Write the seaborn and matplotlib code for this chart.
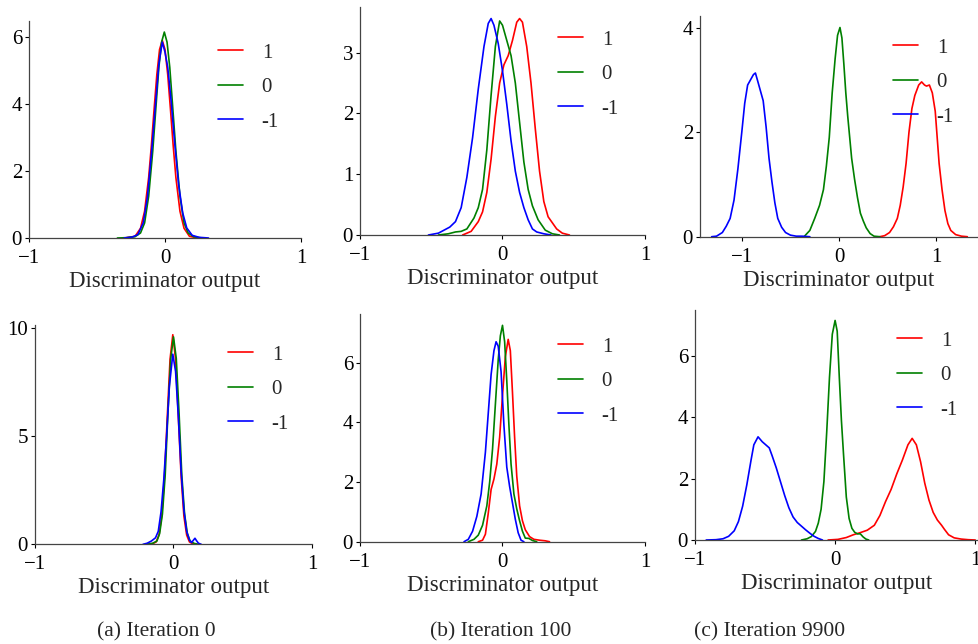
#!/usr/bin/env python3
"""Discriminator output densities for labels 1 / 0 / -1 at three training iterations."""

import matplotlib
matplotlib.use("Agg")
import matplotlib.pyplot as plt
import pandas as pd
import seaborn as sns

LABELS = ["1", "0", "-1"]
COLORS = {"1": "red", "0": "green", "-1": "blue"}
CAPTIONS = ["(a) Iteration 0", "(b) Iteration 100", "(c) Iteration 9900"]

# ---- top row ----------------------------------------------------------
# (a) iteration 0
top_a_red_x = [-0.3, -0.22, -0.18, -0.15, -0.12, -0.1, -0.08, -0.06, -0.04, -0.02, 0.0, 0.02, 0.04, 0.06, 0.08, 0.11, 0.14, 0.18, 0.24]
top_a_red_y = [0.0, 0.05, 0.29, 0.8, 1.81, 2.77, 3.85, 4.88, 5.63, 5.9, 5.63, 4.88, 3.85, 2.77, 1.81, 0.8, 0.29, 0.05, 0.0]
top_a_green_x = [-0.35, -0.28, -0.22, -0.18, -0.15, -0.12, -0.09, -0.065, -0.045, -0.025, -0.005, 0.015, 0.035, 0.055, 0.08, 0.11, 0.14, 0.17, 0.21, 0.27]
top_a_green_y = [0.0, 0.01, 0.04, 0.15, 0.45, 1.25, 2.6, 4.0, 5.1, 5.85, 6.15, 5.85, 5.1, 4.0, 2.6, 1.25, 0.45, 0.15, 0.04, 0.0]
top_a_blue_x = [-0.3, -0.24, -0.2, -0.16, -0.13, -0.1, -0.07, -0.045, -0.02, 0.0, 0.02, 0.045, 0.07, 0.1, 0.13, 0.16, 0.2, 0.25, 0.32]
top_a_blue_y = [0.0, 0.03, 0.1, 0.45, 1.2, 2.5, 4.0, 5.2, 5.85, 5.55, 5.1, 4.1, 2.9, 1.6, 0.75, 0.3, 0.08, 0.02, 0.0]

# (b) iteration 100
top_b_red_x = [-0.28, -0.22, -0.17, -0.14, -0.11, -0.08, -0.05, -0.02, 0.01, 0.04, 0.07, 0.1, 0.12, 0.14, 0.17, 0.2, 0.23, 0.26, 0.29, 0.32, 0.35, 0.38, 0.42, 0.47]
top_b_red_y = [0.0, 0.06, 0.22, 0.38, 0.7, 1.25, 1.95, 2.5, 2.8, 2.95, 3.2, 3.5, 3.56, 3.5, 3.1, 2.5, 1.75, 1.05, 0.55, 0.3, 0.2, 0.1, 0.03, 0.0]
top_b_green_x = [-0.45, -0.38, -0.33, -0.29, -0.25, -0.2, -0.17, -0.14, -0.11, -0.08, -0.05, -0.02, 0.0, 0.03, 0.06, 0.09, 0.12, 0.15, 0.18, 0.21, 0.25, 0.3, 0.35, 0.4]
top_b_green_y = [0.0, 0.02, 0.05, 0.06, 0.1, 0.28, 0.45, 0.75, 1.4, 2.3, 3.1, 3.52, 3.45, 3.2, 2.95, 2.5, 1.85, 1.2, 0.75, 0.48, 0.25, 0.08, 0.02, 0.0]
top_b_blue_x = [-0.52, -0.45, -0.41, -0.37, -0.33, -0.29, -0.25, -0.21, -0.17, -0.13, -0.1, -0.08, -0.06, -0.03, 0.0, 0.03, 0.06, 0.09, 0.12, 0.15, 0.18, 0.21, 0.24, 0.29, 0.34]
top_b_blue_y = [0.0, 0.03, 0.08, 0.13, 0.22, 0.45, 0.95, 1.6, 2.4, 3.1, 3.48, 3.56, 3.45, 3.15, 2.7, 2.15, 1.55, 1.05, 0.7, 0.45, 0.25, 0.1, 0.05, 0.02, 0.0]

# (c) iteration 9900
top_c_red_x = [0.42, 0.47, 0.52, 0.56, 0.6, 0.63, 0.66, 0.69, 0.72, 0.75, 0.78, 0.82, 0.85, 0.88, 0.9, 0.93, 0.96, 0.99, 1.01, 1.03, 1.06, 1.09, 1.12, 1.15, 1.2, 1.26, 1.32]
top_c_red_y = [0.0, 0.02, 0.08, 0.19, 0.35, 0.6, 0.95, 1.4, 2.0, 2.45, 2.7, 2.9, 2.96, 2.9, 2.88, 2.9, 2.75, 2.4, 1.9, 1.4, 0.9, 0.5, 0.25, 0.12, 0.04, 0.01, 0.0]
top_c_green_x = [-0.36, -0.3, -0.25, -0.2, -0.16, -0.13, -0.1, -0.07, -0.04, -0.015, 0.01, 0.03, 0.05, 0.07, 0.09, 0.11, 0.13, 0.16, 0.19, 0.22, 0.25, 0.28, 0.32, 0.36, 0.42]
top_c_green_y = [0.0, 0.12, 0.35, 0.6, 0.9, 1.35, 1.9, 2.75, 3.4, 3.85, 4.0, 3.8, 3.3, 2.75, 2.3, 1.9, 1.5, 1.1, 0.75, 0.45, 0.3, 0.17, 0.06, 0.01, 0.0]
top_c_blue_x = [-1.31, -1.26, -1.2, -1.16, -1.12, -1.08, -1.04, -1.0, -0.97, -0.94, -0.91, -0.88, -0.86, -0.84, -0.81, -0.78, -0.75, -0.72, -0.69, -0.66, -0.63, -0.59, -0.55, -0.5, -0.44, -0.38, -0.3]
top_c_blue_y = [0.0, 0.01, 0.08, 0.2, 0.35, 0.7, 1.3, 2.0, 2.55, 2.9, 3.0, 3.1, 3.13, 3.0, 2.8, 2.6, 2.1, 1.5, 1.05, 0.65, 0.35, 0.18, 0.08, 0.03, 0.01, 0.01, 0.0]

# ---- bottom row -------------------------------------------------------
bot_a_red_x = [-0.2, -0.15, -0.125, -0.105, -0.085, -0.065, -0.045, -0.025, -0.005, 0.015, 0.035, 0.055, 0.075, 0.095, 0.115, 0.14, 0.17]
bot_a_red_y = [0.0, 0.03, 0.11, 0.43, 1.31, 3.15, 5.89, 8.56, 9.7, 8.56, 5.89, 3.15, 1.31, 0.43, 0.11, 0.02, 0.0]
bot_a_green_x = [-0.2, -0.15, -0.12, -0.1, -0.08, -0.06, -0.04, -0.02, 0.0, 0.02, 0.04, 0.06, 0.08, 0.1, 0.12, 0.15, 0.18]
bot_a_green_y = [0.0, 0.05, 0.15, 0.5, 1.4, 3.2, 6.1, 8.6, 9.6, 8.6, 6.1, 3.2, 1.4, 0.5, 0.15, 0.04, 0.0]
bot_a_blue_x = [-0.22, -0.19, -0.16, -0.13, -0.11, -0.09, -0.07, -0.05, -0.03, -0.005, 0.015, 0.035, 0.055, 0.075, 0.095, 0.115, 0.13, 0.145, 0.155, 0.165, 0.18, 0.2]
bot_a_blue_y = [0.0, 0.05, 0.15, 0.3, 0.6, 1.5, 3.0, 5.0, 7.3, 8.8, 8.0, 5.9, 3.4, 1.6, 0.6, 0.2, 0.08, 0.2, 0.28, 0.18, 0.05, 0.0]

bot_b_red_x = [-0.17, -0.14, -0.12, -0.1, -0.08, -0.06, -0.04, -0.02, 0.0, 0.02, 0.04, 0.055, 0.07, 0.085, 0.1, 0.12, 0.14, 0.16, 0.19, 0.22, 0.26, 0.3, 0.33]
bot_b_red_y = [0.0, 0.05, 0.25, 0.95, 1.75, 2.1, 2.6, 3.5, 4.9, 6.2, 6.78, 6.4, 5.0, 3.5, 2.2, 1.2, 0.7, 0.4, 0.17, 0.08, 0.05, 0.03, 0.0]
bot_b_green_x = [-0.24, -0.2, -0.17, -0.14, -0.11, -0.09, -0.07, -0.05, -0.03, -0.015, 0.0, 0.015, 0.03, 0.045, 0.06, 0.08, 0.1, 0.12, 0.14, 0.16, 0.185, 0.21, 0.24]
bot_b_green_y = [0.0, 0.08, 0.22, 0.55, 1.2, 2.0, 3.1, 4.6, 6.1, 6.9, 7.25, 6.7, 5.4, 3.9, 2.6, 1.6, 1.1, 0.7, 0.35, 0.12, 0.11, 0.04, 0.0]
bot_b_blue_x = [-0.27, -0.24, -0.21, -0.18, -0.15, -0.12, -0.1, -0.08, -0.06, -0.045, -0.03, -0.01, 0.01, 0.03, 0.05, 0.07, 0.09, 0.11, 0.13, 0.15]
bot_b_blue_y = [0.0, 0.08, 0.35, 0.85, 1.6, 3.0, 4.3, 5.6, 6.4, 6.7, 6.55, 5.7, 3.9, 2.5, 1.85, 1.3, 0.75, 0.3, 0.05, 0.0]

bot_c_red_x = [-0.05, 0.02, 0.08, 0.13, 0.18, 0.23, 0.28, 0.32, 0.36, 0.4, 0.44, 0.48, 0.52, 0.55, 0.58, 0.61, 0.64, 0.67, 0.7, 0.73, 0.76, 0.78, 0.81, 0.85, 0.9, 0.95, 1.0]
bot_c_red_y = [0.0, 0.02, 0.08, 0.17, 0.24, 0.32, 0.48, 0.8, 1.25, 1.65, 2.15, 2.6, 3.1, 3.31, 3.1, 2.55, 1.85, 1.3, 0.9, 0.65, 0.48, 0.35, 0.17, 0.07, 0.03, 0.01, 0.0]
bot_c_green_x = [-0.24, -0.2, -0.17, -0.14, -0.12, -0.1, -0.08, -0.06, -0.04, -0.02, 0.0, 0.015, 0.03, 0.045, 0.06, 0.08, 0.1, 0.12, 0.14, 0.16, 0.18, 0.2, 0.22, 0.24]
bot_c_green_y = [0.0, 0.04, 0.11, 0.28, 0.55, 1.0, 1.9, 3.5, 5.3, 6.7, 7.15, 6.8, 5.3, 3.9, 2.8, 1.4, 0.7, 0.38, 0.25, 0.2, 0.2, 0.1, 0.03, 0.0]
bot_c_blue_x = [-0.92, -0.85, -0.8, -0.76, -0.72, -0.69, -0.66, -0.63, -0.6, -0.58, -0.55, -0.52, -0.49, -0.47, -0.45, -0.42, -0.39, -0.36, -0.33, -0.3, -0.27, -0.24, -0.21, -0.18, -0.15, -0.12, -0.09]
bot_c_blue_y = [0.0, 0.01, 0.04, 0.12, 0.3, 0.6, 1.1, 1.8, 2.6, 3.1, 3.36, 3.2, 3.08, 3.0, 2.75, 2.35, 1.9, 1.45, 1.05, 0.75, 0.57, 0.45, 0.33, 0.22, 0.12, 0.05, 0.0]

# axes boxes in pixels: left, right, bottom, top  (figure is 979 x 644)
W, H = 979, 644
PANELS = [
    # name, series, box, xlim, ylim, yticks, legend anchor (px)
    ("top_a", [(top_a_red_x, top_a_red_y), (top_a_green_x, top_a_green_y), (top_a_blue_x, top_a_blue_y)],
     (29, 301, 238, 21), (-1, 1), (0, 6.48), [0, 2, 4, 6], (218, 43)),
    ("top_b", [(top_b_red_x, top_b_red_y), (top_b_green_x, top_b_green_y), (top_b_blue_x, top_b_blue_y)],
     (360, 645, 235, 7), (-1, 1), (0, 3.75), [0, 1, 2, 3], (558, 30)),
    ("top_c", [(top_c_red_x, top_c_red_y), (top_c_green_x, top_c_green_y), (top_c_blue_x, top_c_blue_y)],
     (700, 978, 236.7, 16), (-1.43, 1.43), (0, 4.22), [0, 2, 4], (893, 38)),
    ("bot_a", [(bot_a_red_x, bot_a_red_y), (bot_a_green_x, bot_a_green_y), (bot_a_blue_x, bot_a_blue_y)],
     (35, 312, 544.3, 325), (-1, 1), (0, 10.15), [0, 5, 10], (228, 345)),
    ("bot_b", [(bot_b_red_x, bot_b_red_y), (bot_b_green_x, bot_b_green_y), (bot_b_blue_x, bot_b_blue_y)],
     (360, 645, 541.7, 314), (-1, 1), (0, 7.63), [0, 2, 4, 6], (558, 337)),
    ("bot_c", [(bot_c_red_x, bot_c_red_y), (bot_c_green_x, bot_c_green_y), (bot_c_blue_x, bot_c_blue_y)],
     (695, 978, 540, 310), (-1, 1.02), (0, 7.49), [0, 2, 4, 6], (897, 331)),
]
CAPTION_X = [156, 501, 770]
CAPTION_Y = 632


def build_frame(series):
    parts = []
    for label, (xs, ys) in zip(LABELS, series):
        parts.append(pd.DataFrame({"x": xs, "y": ys, "label": label}))
    return pd.concat(parts, ignore_index=True)


def main():
    sns.set_theme(style="ticks")
    plt.rcParams["font.family"] = ["Liberation Serif", "DejaVu Serif"]
    plt.rcParams["axes.unicode_minus"] = True

    fig = plt.figure(figsize=(W / 100, H / 100), dpi=100)

    for name, series, box, xlim, ylim, yticks, leg in PANELS:
        left, right, bottom, top = box
        ax = fig.add_axes([left / W, 1 - bottom / H, (right - left) / W, (bottom - top) / H])
        df = build_frame(series)
        sns.lineplot(data=df, x="x", y="y", hue="label", hue_order=LABELS,
                     palette=COLORS, estimator=None, linewidth=1.2, ax=ax)
        ax.set_xlim(*xlim)
        ax.set_ylim(*ylim)
        ax.set_xticks([-1, 0, 1])
        ax.set_yticks(yticks)
        ax.set_xlabel("Discriminator output", fontsize=16.5, labelpad=2)
        ax.set_ylabel("")
        ax.tick_params(labelsize=15, length=3, width=0.8, colors="black")
        ax.tick_params(axis="x", pad=5)
        ax.tick_params(axis="y", pad=2)
        for side in ("top", "right"):
            ax.spines[side].set_visible(False)
        for side in ("left", "bottom"):
            ax.spines[side].set_color("#444444")
            ax.spines[side].set_linewidth(0.9)

        handles, labels = ax.get_legend_handles_labels()
        ax.legend(handles, labels, loc="upper left", frameon=False,
                  bbox_to_anchor=(leg[0] / W, 1 - leg[1] / H), bbox_transform=fig.transFigure,
                  borderpad=0, borderaxespad=0, handlelength=1.2, handletextpad=0.9,
                  labelspacing=0.72, fontsize=15)

    for cx, text in zip(CAPTION_X, CAPTIONS):
        fig.text(cx / W, 1 - CAPTION_Y / H, text, ha="center", va="center", fontsize=15.5)

    fig.savefig("out.png", dpi=100)
    plt.close(fig)


if __name__ == "__main__":
    main()
